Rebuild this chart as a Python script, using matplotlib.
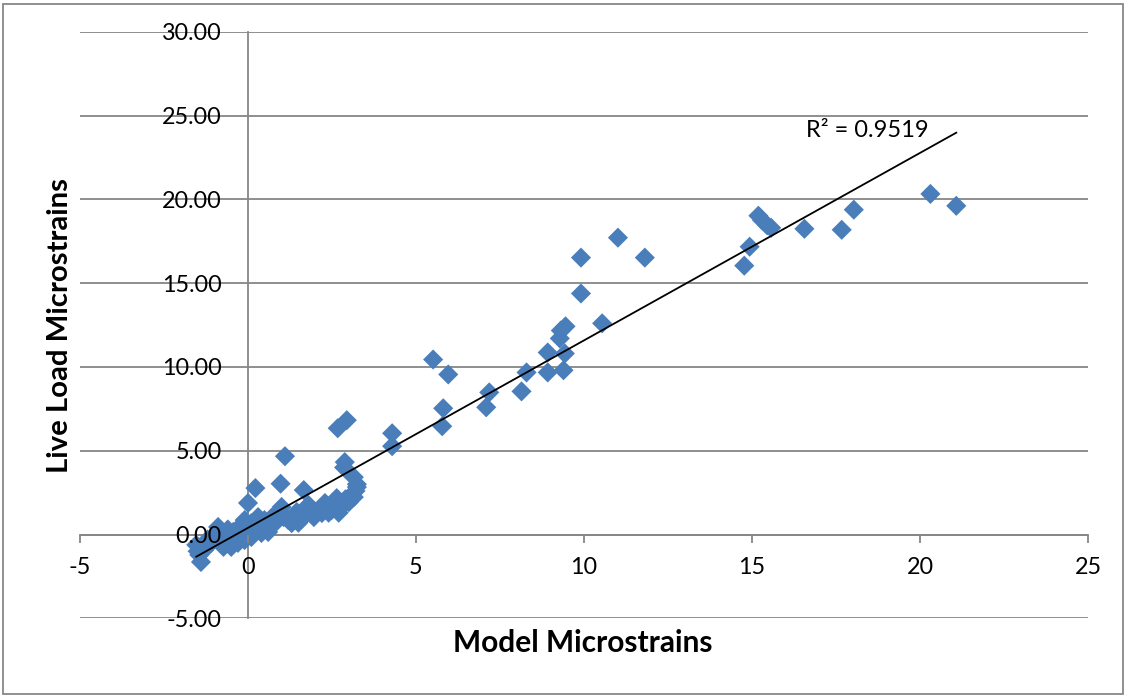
import numpy as np
import matplotlib
matplotlib.use("Agg")
import matplotlib.pyplot as plt
from matplotlib.patches import Rectangle

model = [21.08, 20.31, 18.03, 17.67, 16.56, 15.57, 15.45, 15.30, 15.19, 14.93, 14.77,
         11.01, 11.81, 9.91, 9.91, 10.54, 9.45, 9.31, 9.28, 9.43, 9.39, 8.92, 8.92, 8.29,
         8.14, 7.18, 7.09, 5.51, 5.96, 5.81, 5.78, 4.29, 4.29,
         2.94, 2.67, 1.10, 2.88, 2.86, 3.15, 3.24, 3.24, 3.15, 3.00,
         0.97, 0.22, 1.66, 0.00, 2.64, 2.49, 2.29, 2.00, 1.80, 2.58, 2.88, 2.20, 1.96,
         1.45, 1.30, 1.00, 1.20, 1.06, 0.90, 0.64, 0.49, 0.30, 0.10, -0.10, -0.25, -0.44,
         -0.59, -0.89, -0.95, -1.10, -1.30, -1.45, -1.40, -1.54, 0.40, 0.60, 0.80, 0.10,
         -0.10, -0.30, -0.73, -0.50, 1.60, 2.70, 2.40, 0.20, -0.20, -1.20, -1.50, -0.60,
         0.70, 1.50, 2.90, 3.20, 1.70, -1.35, -0.80, -0.40]
live = [19.61, 20.32, 19.38, 18.18, 18.24, 18.30, 18.45, 18.75, 19.02, 17.17, 16.04,
        17.71, 16.52, 16.52, 14.38, 12.60, 12.42, 12.17, 11.70, 10.80, 9.80, 10.86, 9.67, 9.67,
        8.54, 8.48, 7.59, 10.44, 9.55, 7.53, 6.46, 6.04, 5.27,
        6.82, 6.34, 4.67, 4.32, 4.00, 3.42, 3.00, 2.83, 2.23, 1.93,
        3.03, 2.77, 2.65, 1.88, 2.17, 1.46, 1.88, 1.34, 1.76, 1.64, 1.88, 1.28, 1.04,
        1.34, 0.68, 1.64, 0.86, 1.04, 1.34, 0.45, 0.86, 1.04, 0.68, 0.86, 0.45, 0.15,
        -0.15, 0.45, 0.00, -0.50, -0.92, -1.22, -1.64, -0.62, 0.09, 0.15, 0.68, -0.15,
        -0.33, -0.50, -0.74, -0.74, 0.95, 1.30, 1.30, 0.30, 0.10, -0.30, -1.00, 0.30,
        1.00, 0.70, 2.10, 2.60, 1.20, -0.70, -0.40, 0.00]

xticks = [-5, 0, 5, 10, 15, 20, 25]
yticks = [-5, 0, 5, 10, 15, 20, 25, 30]
r2_label = "R² = 0.9519"

plt.rcParams['font.family'] = ['Lato', 'DejaVu Sans']

fig = plt.figure(figsize=(11.26, 6.98), dpi=100)
fig.patches.append(Rectangle((3/1126, 4/698), 1120/1126, 690/698, transform=fig.transFigure,
                             fill=False, edgecolor='#878787', linewidth=1.3))
ax = fig.add_axes([80/1126, 1-618.3/698, 1008/1126, (618.3-31.7)/698])

x = np.array(model)
y = np.array(live)
ax.scatter(x, y, marker='D', s=105, color='#4a7ebb', edgecolors='none', zorder=3)

m, b = np.polyfit(x, y, 1)
xl = np.array([x.min(), x.max()])
ax.plot(xl, m*xl + b, color='black', lw=1.3, zorder=4)
ax.text(16.6, 24.1, r2_label, fontsize=17, ha='left', va='center', zorder=5)

ax.set_xlim(-5, 25)
ax.set_ylim(-5, 30)
ax.set_xticks(xticks)
ax.set_yticks(yticks)
ax.set_xticklabels([str(v) for v in xticks])
ax.set_yticklabels([f"{v:.2f}" for v in yticks])
# horizontal gridlines behind the markers
ax.hlines(yticks, xticks[0], xticks[-1], color='#868686', lw=1.3, zorder=1)
for s in ['top', 'right']:
    ax.spines[s].set_visible(False)
ax.spines['left'].set_position(('data', 0))
ax.spines['bottom'].set_position(('data', 0))
for s in ['left', 'bottom']:
    ax.spines[s].set_color('#868686')
    ax.spines[s].set_linewidth(1.3)
    ax.spines[s].set_zorder(1.5)
ax.tick_params(axis='x', direction='out', length=6, color='#868686', width=1.3,
               labelsize=16.8, pad=10)
ax.tick_params(axis='y', length=0, labelsize=16.8, pad=19)
ax.yaxis.set_zorder(6)
ax.xaxis.set_zorder(6)

fig.text(60/1126, 1-326/698, "Live Load Microstrains", rotation=90, fontsize=21.2,
         fontweight='bold', ha='center', va='center')
fig.text(583/1126, 1-643/698, "Model Microstrains", fontsize=21.5,
         fontweight='bold', ha='center', va='center')

fig.savefig("out.png", dpi=100)
